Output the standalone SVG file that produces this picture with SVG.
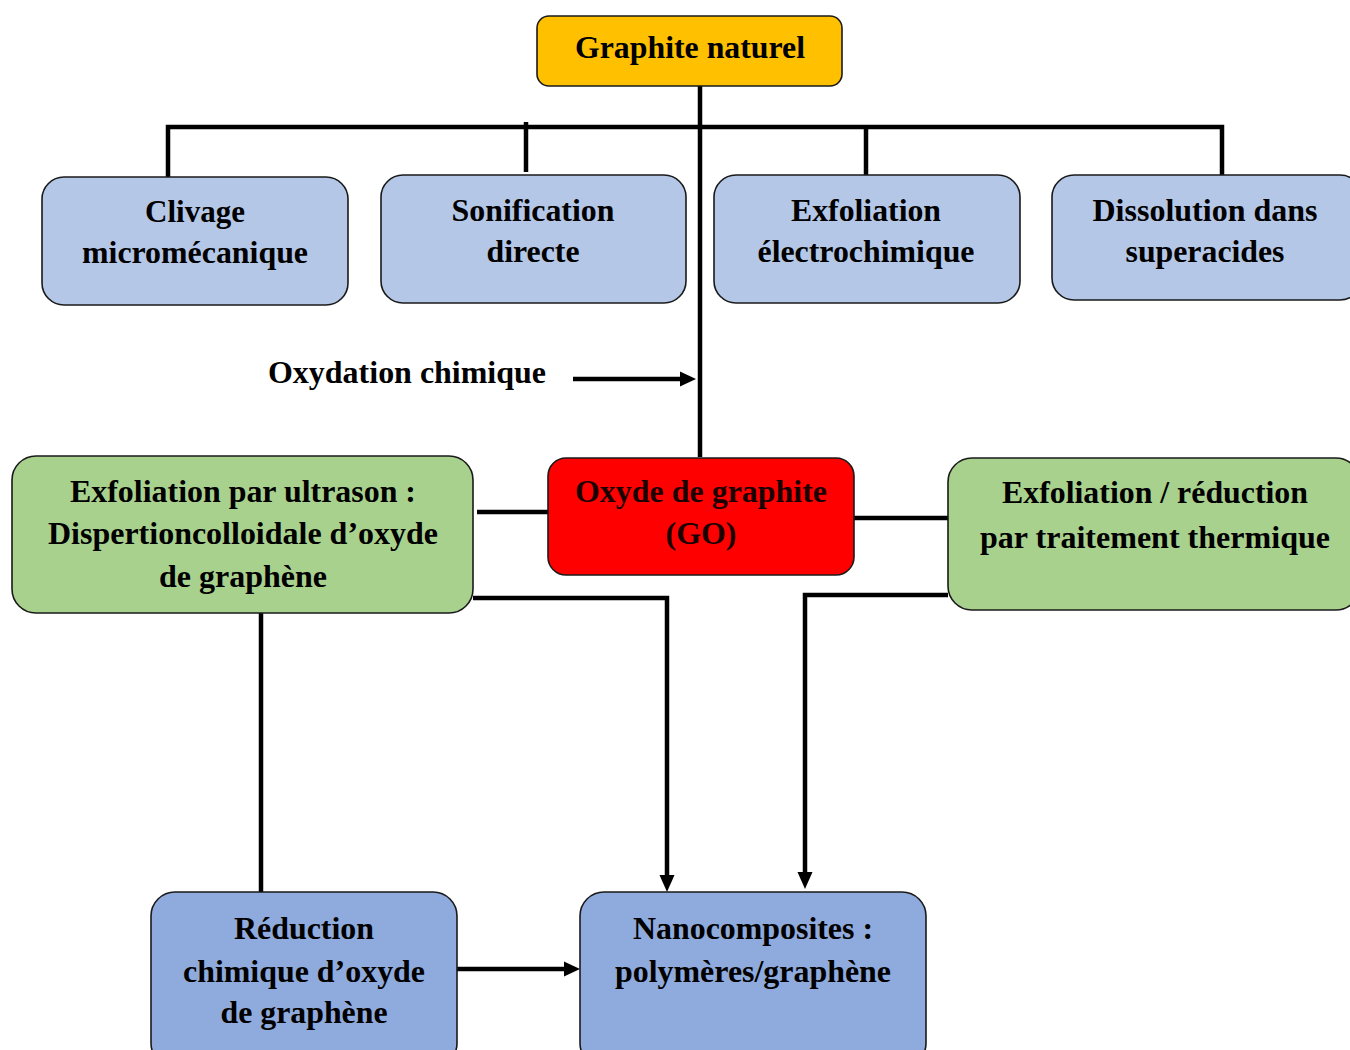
<svg xmlns="http://www.w3.org/2000/svg" width="1350" height="1050" viewBox="0 0 1350 1050">
<style>
.box{stroke:#1a1a1a;stroke-width:1.6}
.t{font-family:"Liberation Serif","Times New Roman",serif;font-weight:bold;font-size:32px;fill:#000;text-anchor:middle}
.c{fill:none;stroke:#000;stroke-width:4.5}
.head{fill:#000;stroke:none}
</style>
<rect width="1350" height="1050" fill="#fff"/>
<g id="connectors">
<path class="c" d="M700,86 V457"/>
<path class="c" d="M168,177 V127 H1222 V175"/>
<path class="c" d="M526,122 V172"/>
<path class="c" d="M866,127 V175"/>
<path class="c" d="M573,379 H684"/>
<polygon class="head" points="680,371.5 680,386.5 696,379"/>
<path class="c" d="M477,512 H548"/>
<path class="c" d="M854,518 H948"/>
<path class="c" d="M473,598 H667 V878"/>
<polygon class="head" points="659.5,875 674.5,875 667,892"/>
<path class="c" d="M948,595 H805 V875"/>
<polygon class="head" points="797.5,872 812.5,872 805,889"/>
<path class="c" d="M261,613 V892"/>
<path class="c" d="M457,969 H568"/>
<polygon class="head" points="564,961.5 564,976.5 580,969"/>
</g>
<g id="graphite">
<rect class="box" x="537" y="16" width="305" height="70" rx="12" fill="#FFC000"/>
<text class="t" x="690" y="58" textLength="230" lengthAdjust="spacingAndGlyphs">Graphite naturel</text>
</g>
<g id="clivage">
<rect class="box" x="42" y="177" width="306" height="128" rx="22" fill="#B4C7E7"/>
<text class="t" x="195" y="222" textLength="100" lengthAdjust="spacingAndGlyphs">Clivage</text>
<text class="t" x="195" y="263" textLength="226" lengthAdjust="spacingAndGlyphs">micromécanique</text>
</g>
<g id="sonification">
<rect class="box" x="381" y="175" width="305" height="128" rx="22" fill="#B4C7E7"/>
<text class="t" x="533" y="221" textLength="163" lengthAdjust="spacingAndGlyphs">Sonification</text>
<text class="t" x="533" y="262" textLength="93" lengthAdjust="spacingAndGlyphs">directe</text>
</g>
<g id="electro">
<rect class="box" x="714" y="175" width="306" height="128" rx="22" fill="#B4C7E7"/>
<text class="t" x="866" y="221" textLength="150" lengthAdjust="spacingAndGlyphs">Exfoliation</text>
<text class="t" x="866" y="262" textLength="217" lengthAdjust="spacingAndGlyphs">électrochimique</text>
</g>
<g id="dissolution">
<rect class="box" x="1052" y="175" width="310" height="125" rx="22" fill="#B4C7E7"/>
<text class="t" x="1205" y="221" textLength="225" lengthAdjust="spacingAndGlyphs">Dissolution dans</text>
<text class="t" x="1205" y="262" textLength="159" lengthAdjust="spacingAndGlyphs">superacides</text>
</g>
<g id="oxydation-label">
<text class="t" x="407" y="383" textLength="278" lengthAdjust="spacingAndGlyphs">Oxydation chimique</text>
</g>
<g id="go">
<rect class="box" x="548" y="458" width="306" height="117" rx="18" fill="#FF0000"/>
<text class="t" x="701" y="502" textLength="252" lengthAdjust="spacingAndGlyphs" style="fill:#1a0000">Oxyde de graphite</text>
<text class="t" x="701" y="544" textLength="71" lengthAdjust="spacingAndGlyphs" style="fill:#1a0000">(GO)</text>
</g>
<g id="ultrason">
<rect class="box" x="12" y="456" width="461" height="157" rx="24" fill="#A9D18E"/>
<text class="t" x="243" y="502" textLength="346" lengthAdjust="spacingAndGlyphs">Exfoliation par ultrason :</text>
<text class="t" x="243" y="544" textLength="390" lengthAdjust="spacingAndGlyphs">Dispertioncolloidale d’oxyde</text>
<text class="t" x="243" y="587" textLength="168" lengthAdjust="spacingAndGlyphs">de graphène</text>
</g>
<g id="thermique">
<rect class="box" x="948" y="458" width="412" height="152" rx="24" fill="#A9D18E"/>
<text class="t" x="1155" y="503" textLength="306" lengthAdjust="spacingAndGlyphs">Exfoliation / réduction</text>
<text class="t" x="1155" y="548" textLength="350" lengthAdjust="spacingAndGlyphs">par traitement thermique</text>
</g>
<g id="reduction">
<rect class="box" x="151" y="892" width="306" height="175" rx="24" fill="#8FAADC"/>
<text class="t" x="304" y="939" textLength="140" lengthAdjust="spacingAndGlyphs">Réduction</text>
<text class="t" x="304" y="982" textLength="242" lengthAdjust="spacingAndGlyphs">chimique d’oxyde</text>
<text class="t" x="304" y="1023" textLength="167" lengthAdjust="spacingAndGlyphs">de graphène</text>
</g>
<g id="nanocomposites">
<rect class="box" x="580" y="892" width="346" height="175" rx="24" fill="#8FAADC"/>
<text class="t" x="753" y="939" textLength="240" lengthAdjust="spacingAndGlyphs">Nanocomposites :</text>
<text class="t" x="753" y="982" textLength="276" lengthAdjust="spacingAndGlyphs">polymères/graphène</text>
</g>
</svg>
